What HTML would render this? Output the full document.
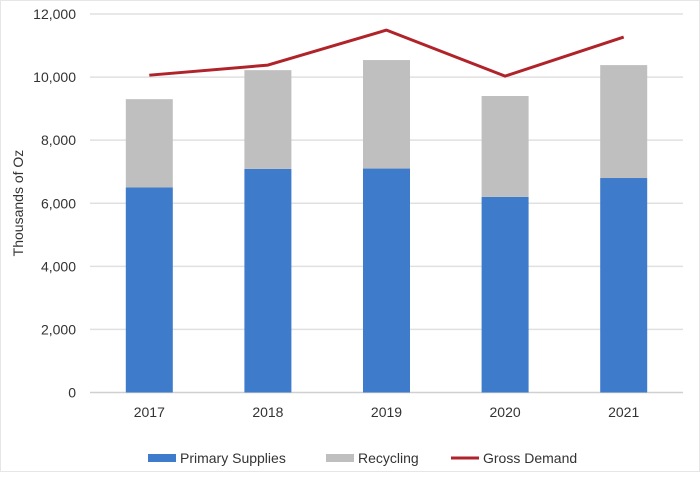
<!DOCTYPE html>
<html><head><meta charset="utf-8"><style>
body{margin:0;background:#fff;}
svg text{font-family:"Liberation Sans",Arial,sans-serif;fill:#333;}
</style></head><body>
<svg id="chart" width="700" height="472" xmlns="http://www.w3.org/2000/svg">
<rect x="0.5" y="0.5" width="699" height="471" fill="#fff" stroke="#e6e6e6"/>
<g id="grid"></g><g id="bars"></g><g id="line"></g><g id="labels"></g>
<text transform="translate(23,203) rotate(-90)" text-anchor="middle" font-size="14">Thousands of Oz</text>
<g>
<rect x="148" y="454" width="28" height="8" fill="#3f7bcb"/>
<text x="180" y="463" font-size="14">Primary Supplies</text>
<rect x="326" y="454" width="28" height="8" fill="#bfbfbf"/>
<text x="358" y="463" font-size="14">Recycling</text>
<line x1="451" y1="458" x2="479" y2="458" stroke="#b0232a" stroke-width="3"/>
<text x="483" y="463" font-size="14">Gross Demand</text>
</g>
</svg>
<script>
const categories=["2017","2018","2019","2020","2021"];
const primary=[6500,7090,7100,6200,6800];
const recycling=[2800,3130,3440,3200,3580];
const demand=[10060,10380,11490,10030,11270];
const yTicks=[0,2000,4000,6000,8000,10000,12000];
const NS="http://www.w3.org/2000/svg";
const x0=90,x1=683,yBase=392.5,yTop=14,yMax=12000;
const band=(x1-x0)/categories.length;
const xC=i=>x0+band*(i+0.5);
const y=v=>yBase-(v/yMax)*(yBase-yTop);
function mk(tag,attrs,parent){const e=document.createElementNS(NS,tag);for(const k in attrs)e.setAttribute(k,attrs[k]);document.getElementById(parent).appendChild(e);return e;}
yTicks.forEach(t=>{
 const l=mk('line',{x1:x0,x2:x1,y1:y(t),y2:y(t),stroke:t===0?'#d0d0d0':'#e0e0e0','stroke-width':1.5},'grid');
 
 
 const tx=mk('text',{x:76,y:y(t)+5,'text-anchor':'end','font-size':14},'labels');
 tx.textContent=t.toLocaleString('en-US');
 
 
});
const bw=47;
categories.forEach((c,i)=>{
 const r1=mk('rect',{x:xC(i)-bw/2,y:y(primary[i]),width:bw,height:yBase-y(primary[i]),fill:'#3f7bcb'},'bars');
 
 
 const r2=mk('rect',{x:xC(i)-bw/2,y:y(primary[i]+recycling[i]),width:bw,height:y(primary[i])-y(primary[i]+recycling[i]),fill:'#bfbfbf'},'bars');
 
 
 const tx=mk('text',{x:xC(i),y:417,'text-anchor':'middle','font-size':14},'labels');
 tx.textContent=c;
 
 
});
const pl=mk('polyline',{points:demand.map((v,i)=>xC(i)+','+y(v)).join(' '),fill:'none',stroke:'#b0232a','stroke-width':3,'stroke-linejoin':'round'},'line');


</script>
</body></html>
